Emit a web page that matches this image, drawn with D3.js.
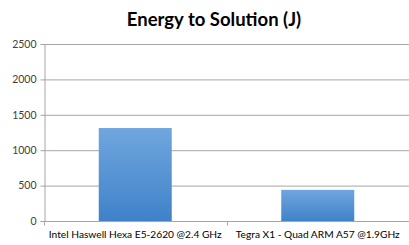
<!DOCTYPE html>
<html>
<head>
<meta charset="utf-8">
<script src="https://d3js.org/d3.v7.min.js"></script>
<style>
  body { margin: 0; background: #fff; }
  svg { display: block; font-family: Lato, "Open Sans", sans-serif; }
</style>
</head>
<body>
<svg id="chart" width="409" height="245"></svg>
<script>
// data
const categories = ["Intel Haswell Hexa E5-2620 @2.4 GHz", "Tegra X1 - Quad ARM A57 @1.9GHz"];
const energy = [1313, 440];
const yTicks = [0, 500, 1000, 1500, 2000, 2500];

const margin = { top: 44, right: 0, bottom: 24, left: 44 },
    width = 409 - margin.left - margin.right,
    height = 245 - margin.top - margin.bottom;

const svg = d3.select("#chart");

// bar gradient
const grad = svg.append("defs").append("linearGradient")
    .attr("id", "barGrad").attr("x1", 0).attr("y1", 0).attr("x2", 0).attr("y2", 1);
grad.append("stop").attr("offset", "0%").attr("stop-color", "#70a6de");
grad.append("stop").attr("offset", "100%").attr("stop-color", "#3f82c9");

svg.append("text")
    .attr("x", 214).attr("y", 26)
    .attr("text-anchor", "middle")
    .attr("font-size", 18.5).attr("font-weight", "bold")
    .attr("fill", "#000")
    .text("Energy to Solution (J)");

const g = svg.append("g").attr("transform", `translate(${margin.left},${margin.top})`);

const x = d3.scaleBand().domain(categories).range([0, width]).paddingInner(0.6).paddingOuter(0.3);
const y = d3.scaleLinear().domain([0, 2500]).range([height, 0]);

// gridlines
g.selectAll(".grid").data(yTicks.slice(1)).enter().append("line")
    .attr("x1", 0).attr("x2", width)
    .attr("y1", d => y(d) + 0.5).attr("y2", d => y(d) + 0.5)
    .attr("stroke", "#a6a6a6").attr("stroke-width", 1);

// y axis
const yAxis = g.append("g").attr("transform", "translate(0.5,0)")
    .call(d3.axisLeft(y).tickValues(yTicks).tickSize(4).tickPadding(4).tickFormat(d3.format("d")));
yAxis.select(".domain").attr("stroke", "#a6a6a6");
yAxis.selectAll("line").attr("stroke", "#a6a6a6");
yAxis.selectAll("text").attr("font-size", 10.5).attr("fill", "#404040").attr("font-family", "Lato, sans-serif");

// bars
g.selectAll(".bar").data(energy).enter().append("rect")
    .attr("x", (d, i) => x(categories[i]))
    .attr("y", d => y(d))
    .attr("width", x.bandwidth())
    .attr("height", d => height - y(d))
    .attr("fill", "url(#barGrad)");

// x axis
const xb = d3.scaleLinear().domain([0, categories.length]).range([0, width]);
const xAxis = g.append("g").attr("transform", `translate(0,${height + 0.5})`);
xAxis.append("line").attr("x1", 0).attr("x2", width).attr("stroke", "#a6a6a6");
xAxis.selectAll(".tk").data(d3.range(categories.length + 1)).enter().append("line")
    .attr("x1", d => Math.round(xb(d)) + 0.5).attr("x2", d => Math.round(xb(d)) + 0.5)
    .attr("y1", 0).attr("y2", 4)
    .attr("stroke", "#a6a6a6");
xAxis.selectAll(".lbl").data(categories).enter().append("text")
    .attr("x", d => x(d) + x.bandwidth() / 2)
    .attr("y", 16.5)
    .attr("text-anchor", "middle")
    .attr("font-size", 10.2).attr("fill", "#000")
    .text(d => d);
</script>
</body>
</html>
